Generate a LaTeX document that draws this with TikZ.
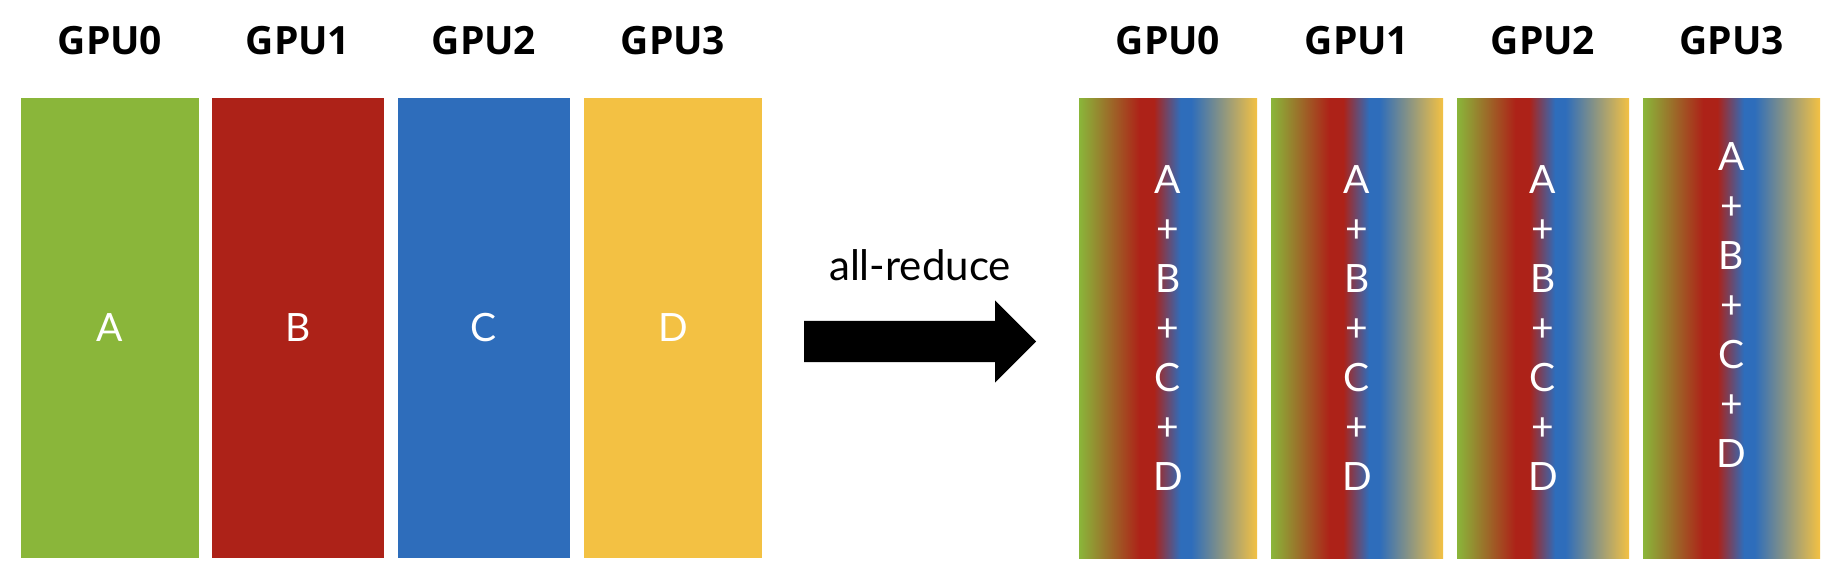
\documentclass[tikz,border=0pt]{standalone}
\usepackage{fontspec}
\setmainfont{Lato}
\newfontfamily\headfont{Open Sans}
\usepackage{tikz}
\usetikzlibrary{positioning}
\usetikzlibrary{shapes.arrows}
\definecolor[named]{gpugreen}{RGB}{138,182,58}
\definecolor[named]{gpured}{RGB}{173,34,24}
\definecolor[named]{gpublue}{RGB}{46,109,187}
\definecolor[named]{gpuyellow}{RGB}{243,193,67}
\pgfdeclarehorizontalshading{gpumix}{100bp}{color(0bp)=(gpugreen); color(25bp)=(gpugreen); color(42bp)=(gpured); color(46bp)=(gpured); color(53.5bp)=(gpublue); color(56.5bp)=(gpublue); color(75bp)=(gpuyellow); color(100bp)=(gpuyellow)}

\begin{document}
\begin{tikzpicture}
    [x=1pt,y=-1pt,node distance=43pt,
     gpubox/.style={rectangle,inner sep=0pt,minimum height=460pt,text=white,font=\fontsize{39}{49.5}\selectfont},
     sumtext/.style={inner sep=0pt,align=center,text=white,font=\fontsize{39}{49.5}\selectfont},
     gpuhead/.style={inner sep=0pt,font=\headfont\bfseries\fontsize{39}{39}\selectfont}]
    \useasboundingbox (0,0) rectangle (1840,582);
    % before
    \node [gpubox,minimum width=178pt,fill=gpugreen] (A0) at (110,328) {A};
    \node [gpubox,minimum width=172pt,fill=gpured] (A1) at (298,328) {B};
    \node [gpubox,minimum width=172pt,fill=gpublue] (A2) at (484,328) {C};
    \node [gpubox,minimum width=178pt,fill=gpuyellow] (A3) at (673,328) {D};
    \node [gpuhead,above=of A0] (HA0) {GPU0};
    \node [gpuhead,above=of A1] (HA1) {GPU1};
    \node [gpuhead,above=of A2] (HA2) {GPU2};
    \node [gpuhead,above=of A3] (HA3) {GPU3};
    % after
    \node [gpubox,minimum width=178pt,shading=gpumix] (R0) at (1168,328) {};
    \node [gpubox,minimum width=172pt,shading=gpumix] (R1) at (1357,328) {};
    \node [gpubox,minimum width=172pt,shading=gpumix] (R2) at (1543,328) {};
    \node [gpubox,minimum width=177pt,shading=gpumix] (R3) at (1731.5,328) {};
    \node [sumtext] (S0) at (R0.center) {A\\+\\B\\+\\C\\+\\D};
    \node [sumtext] (S1) at (R1.center) {A\\+\\B\\+\\C\\+\\D};
    \node [sumtext] (S2) at (R2.center) {A\\+\\B\\+\\C\\+\\D};
    \node [sumtext] (S3) at ([yshift=23pt]R3.center) {A\\+\\B\\+\\C\\+\\D};
    \node [gpuhead,above=of R0] (HR0) {GPU0};
    \node [gpuhead,above=of R1] (HR1) {GPU1};
    \node [gpuhead,above=of R2] (HR2) {GPU2};
    \node [gpuhead,above=of R3] (HR3) {GPU3};
    % the arrow
    \node [single arrow,fill=black,inner sep=0pt,inner ysep=20.5pt,single arrow head extend=20.5pt,minimum height=232pt,anchor=tail] (Reduce) at (804,341.5) {};
    \node [inner sep=0pt,anchor=base,font=\fontsize{42}{42}\selectfont] (ReduceLabel) at (920,280) {all-reduce};
\end{tikzpicture}
\end{document}
